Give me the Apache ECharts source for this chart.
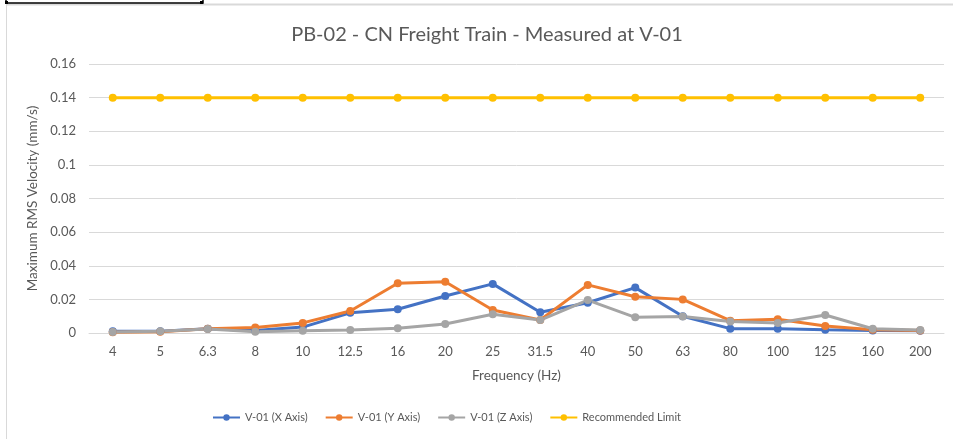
<!DOCTYPE html>
<html><head><meta charset="utf-8">
<script src="https://cdn.jsdelivr.net/npm/echarts@6/dist/echarts.min.js"></script>
<style>html,body{margin:0;padding:0;background:#fff}#c{width:953px;height:439px}</style>
</head><body><div id="c"></div>
<script>
const categories = ['4','5','6.3','8','10','12.5','16','20','25','31.5','40','50','63','80','100','125','160','200'];
const xAxisVals = [0.001,0.001,0.0025,0.0015,0.0035,0.012,0.0141,0.022,0.0292,0.0123,0.018,0.027,0.010,0.0026,0.0026,0.002,0.0015,0.0013];
const yAxisVals = [0.0005,0.0008,0.0025,0.0033,0.006,0.0131,0.0296,0.0305,0.0137,0.0077,0.0286,0.0216,0.020,0.0073,0.0082,0.0042,0.002,0.0015];
const zAxisVals = [0.0006,0.001,0.0024,0.0008,0.0014,0.0018,0.0028,0.0054,0.0111,0.0077,0.0196,0.0093,0.0098,0.0068,0.0059,0.0107,0.0025,0.0018];
const limitVals = [0.14,0.14,0.14,0.14,0.14,0.14,0.14,0.14,0.14,0.14,0.14,0.14,0.14,0.14,0.14,0.14,0.14,0.14];
const seriesNames = ['V-01 (X Axis)','V-01 (Y Axis)','V-01 (Z Axis)','Recommended Limit'];
const colors = ['#4472C4','#ED7D31','#A5A5A5','#FFC000'];
const F = 'Lato, "Open Sans", sans-serif';
const txt = '#595959';
const chart = echarts.init(document.getElementById('c'), null, {renderer:'canvas'});
const mk = (name, data, color) => ({
  name, type:'line', data, color, symbol:'circle', symbolSize:8,
  lineStyle:{width:3, color}, itemStyle:{color}, animation:false
});
chart.setOption({
  animation:false,
  title:{text:'PB-02 - CN Freight Train - Measured at V-01', left:482, textAlign:'center', top:20,
    textStyle:{fontFamily:F, fontSize:20, fontWeight:'normal', color:txt}},
  grid:{left:89, right:9, top:64, bottom:106},
  legend:{data:seriesNames, bottom:11, left:207, itemWidth:27, itemHeight:8, itemGap:17,
    textStyle:{fontFamily:F, fontSize:11, color:txt}},
  xAxis:{type:'category', data:categories, boundaryGap:true,
    name:'Frequency (Hz)', nameLocation:'middle', nameGap:36,
    nameTextStyle:{fontFamily:F, fontSize:13.5, color:txt},
    axisLine:{lineStyle:{color:'#d9d9d9'}}, axisTick:{show:false},
    axisLabel:{fontFamily:F, fontSize:13, color:txt, margin:12}},
  yAxis:{type:'value', min:0, max:0.16, interval:0.02,
    name:'Maximum RMS Velocity (mm/s)', nameLocation:'middle', nameGap:44,
    nameTextStyle:{fontFamily:F, fontSize:13.5, color:txt},
    axisLine:{show:false}, axisTick:{show:false},
    splitLine:{lineStyle:{color:'#d9d9d9'}},
    axisLabel:{fontFamily:F, fontSize:13, color:txt, margin:13,
      formatter:v=>String(Math.round(v*100)/100)}},
  graphic:[
    {type:'line', shape:{x1:6.5,y1:4,x2:6.5,y2:439}, style:{stroke:'#d9d9d9', lineWidth:1}},
    {type:'line', shape:{x1:6,y1:4.5,x2:953,y2:4.5}, style:{stroke:'#d9d9d9', lineWidth:2}},
    {type:'rect', shape:{x:6,y:-10,width:197,height:13}, style:{fill:'#fff', stroke:'#000', lineWidth:1.5}},
    {type:'rect', shape:{x:5,y:1,width:3,height:3}, style:{fill:'#000'}},
    {type:'rect', shape:{x:200,y:1,width:3,height:3}, style:{fill:'#000'}}
  ],
  series:[mk(seriesNames[0], xAxisVals, colors[0]), mk(seriesNames[1], yAxisVals, colors[1]),
          mk(seriesNames[2], zAxisVals, colors[2]), mk(seriesNames[3], limitVals, colors[3])]
});
</script></body></html>
